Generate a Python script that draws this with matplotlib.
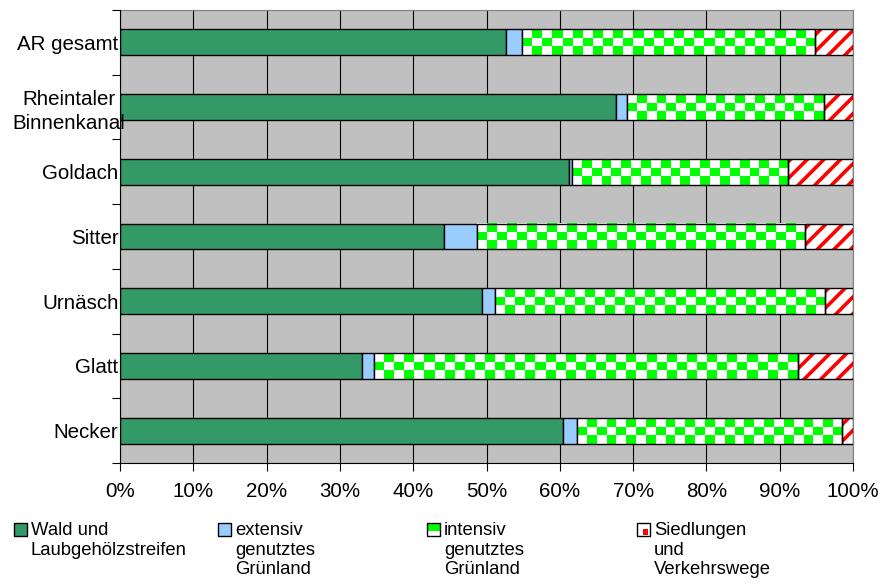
import numpy as np
import matplotlib
matplotlib.use('Agg')
import matplotlib.pyplot as plt
from matplotlib.colors import ListedColormap
from matplotlib.patches import Rectangle
from matplotlib.transforms import ScaledTranslation

plt.rcParams['font.family'] = ['Liberation Sans', 'DejaVu Sans']
plt.rcParams['hatch.linewidth'] = 2.6

# data (percent of area), top to bottom
regions = ['AR gesamt', 'Rheintaler\nBinnenkanal', 'Goldach', 'Sitter',
           'Urnäsch', 'Glatt', 'Necker']
wald = [52.7, 67.7, 61.2, 44.2, 49.4, 33.0, 60.5]
extensiv = [2.1, 1.5, 0.5, 4.5, 1.7, 1.7, 1.8]
intensiv = [40.0, 26.8, 29.5, 44.8, 45.1, 57.8, 36.2]
siedlung = [5.2, 4.0, 8.8, 6.5, 3.8, 7.5, 1.5]
legend_labels = ['Wald und\nLaubgehölzstreifen',
                 'extensiv\ngenutztes\nGrünland',
                 'intensiv\ngenutztes\nGrünland',
                 'Siedlungen\nund\nVerkehrswege']
xticks = np.arange(0, 101, 10)

GREEN = '#339966'
BLUE = '#99CCFF'
LIME = '#00FF00'
RED = '#FF0000'

W, H = 893, 584
fig = plt.figure(figsize=(W / 100, H / 100), dpi=100)
ax = fig.add_axes([120 / W, 1 - 463 / H, 733 / W, 453 / H])
ax.set_facecolor('#C0C0C0')

y = np.arange(len(regions))
bh = 0.4
left = np.zeros(len(regions))

ax.barh(y, wald, bh, left=left, color=GREEN, edgecolor='black', lw=1, zorder=3)
left = left + wald
ax.barh(y, extensiv, bh, left=left, color=BLUE, edgecolor='black', lw=1, zorder=3)
left = left + extensiv
left_int = left.copy()

# checker pattern for "intensiv"
checker = ListedColormap(['white', LIME])
px_per_x = 733 / 100
for i in range(len(regions)):
    ncols = max(1, int(round(intensiv[i] * px_per_x / 10)))
    arr = np.add.outer(np.arange(3), np.arange(ncols)) % 2
    ax.imshow(arr, cmap=checker, vmin=0, vmax=1, aspect='auto',
              interpolation='nearest', zorder=3.5,
              extent=(left_int[i], left_int[i] + intensiv[i],
                      y[i] + bh / 2, y[i] - bh / 2))
ax.barh(y, intensiv, bh, left=left_int, fill=False, edgecolor='black', lw=1, zorder=4)
left = left + intensiv

ax.barh(y, siedlung, bh, left=left, color='white', edgecolor=RED, lw=0,
        hatch='//', zorder=3)
ax.barh(y, siedlung, bh, left=left, fill=False, edgecolor='black', lw=1, zorder=4)

ax.set_xlim(0, 100)
ax.set_ylim(len(regions) - 0.5, -0.5)

ax.set_xticks(xticks, [f'{v}%' for v in xticks])
ax.tick_params(axis='x', length=6, width=0.8, pad=8, labelsize=14.8)
ax.grid(axis='x', color='black', lw=0.8)
ax.set_axisbelow(True)

ax.set_yticks(np.arange(-0.5, len(regions), 1))
ax.set_yticklabels([])
ax.tick_params(axis='y', which='major', length=6, width=0.8)
ax.set_yticks(y, regions, minor=True)
ax.tick_params(axis='y', which='minor', length=0, pad=1, labelsize=14.8)
for lbl in ax.get_yticklabels(minor=True):
    lbl.set_multialignment('center')
    lbl.set_linespacing(1.3)
    if '\n' in lbl.get_text():
        lbl.set_transform(lbl.get_transform()
                          + ScaledTranslation(7 / 100, 0, fig.dpi_scale_trans))
# labels sit in front of the bars, like the original
ax.yaxis.set_zorder(5)

for s in ['top', 'right']:
    ax.spines[s].set_color('#808080')
for s in ['left', 'bottom']:
    ax.spines[s].set_color('black')
    ax.spines[s].set_zorder(5)

# legend, drawn by hand (swatch aligned with first text line)
def fx(px):
    return px / W

def fy(py):
    return 1 - py / H

sw_x = [14, 218, 427, 637]
sw_top, sw = 523, 13
for k, lab in enumerate(legend_labels):
    x0 = sw_x[k]
    if k == 0:
        fig.add_artist(Rectangle((fx(x0), fy(sw_top + sw)), sw / W, sw / H,
                                 facecolor=GREEN, edgecolor='black', lw=1,
                                 transform=fig.transFigure))
    elif k == 1:
        fig.add_artist(Rectangle((fx(x0), fy(sw_top + sw)), sw / W, sw / H,
                                 facecolor=BLUE, edgecolor='black', lw=1,
                                 transform=fig.transFigure))
    elif k == 2:
        fig.add_artist(Rectangle((fx(x0), fy(sw_top + sw)), sw / W, sw / H,
                                 facecolor='white', edgecolor='none',
                                 transform=fig.transFigure))
        fig.add_artist(Rectangle((fx(x0), fy(sw_top + sw * 0.6)), sw / W, sw * 0.6 / H,
                                 facecolor=LIME, edgecolor='none',
                                 transform=fig.transFigure))
        fig.add_artist(Rectangle((fx(x0), fy(sw_top + sw)), sw / W, sw / H,
                                 fill=False, edgecolor='black', lw=1,
                                 transform=fig.transFigure))
    else:
        fig.add_artist(Rectangle((fx(x0), fy(sw_top + sw)), sw / W, sw / H,
                                 facecolor='white', edgecolor='none',
                                 transform=fig.transFigure))
        fig.add_artist(Rectangle((fx(x0 + 6), fy(sw_top + sw - 1)), 5 / W, 6 / H,
                                 facecolor=RED, edgecolor='none',
                                 transform=fig.transFigure))
        fig.add_artist(Rectangle((fx(x0), fy(sw_top + sw)), sw / W, sw / H,
                                 fill=False, edgecolor='black', lw=1,
                                 transform=fig.transFigure))
    fig.text(fx(x0 + 17), fy(sw_top - 1), lab, ha='left', va='top',
             fontsize=13.3, linespacing=1.2)

fig.savefig('out.png', dpi=100)
